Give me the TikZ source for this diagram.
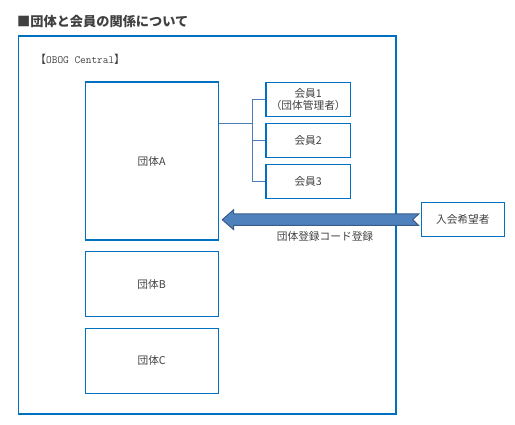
\documentclass[tikz,border=0pt]{standalone}
\usepackage{fontspec}
\usetikzlibrary{calc}
\setmainfont{Noto Sans CJK JP}
\newfontfamily\jpfont{Noto Sans CJK JP}
\definecolor{frameblue}{HTML}{0070C0}
\definecolor{linkblue}{HTML}{4A7EBB}
\definecolor{arrowfill}{HTML}{4F81BD}
\definecolor{arrowedge}{HTML}{385D8A}
\definecolor{txt}{HTML}{404040}
\tikzset{
  boxstyle/.style={draw=frameblue, line width=1.2pt, text=txt, font=\jpfont\fontsize{10.7}{12.5}\selectfont, align=center, inner sep=0pt},
  linkstyle/.style={draw=linkblue, line width=1pt},
}
\begin{document}
\begin{tikzpicture}[x=1pt,y=-1pt]
\useasboundingbox (0,0) rectangle (515,425);
% title
\node[anchor=west, text=txt, font=\jpfont\bfseries\fontsize{13.2}{15}\selectfont, inner sep=0pt] (title) at (17,22) {■団体と会員の関係について};
% outer frame
\node[draw=frameblue, line width=1.2pt, minimum width=377.5pt, minimum height=378pt, inner sep=0pt] (frame) at (207.25,225) {};
\node[anchor=west, text=txt, font=\fontsize{11}{13}\selectfont, inner sep=0pt] (brand) at (35,59) {{\jpfont 【}{\ttfamily\fontsize{11}{13}\selectfont OBOG Central}{\jpfont 】}};
% groups
\node[boxstyle, minimum width=133pt, minimum height=158pt] (A) at (151.7,161) {団体A};
\node[boxstyle, minimum width=133pt, minimum height=64.6pt] (B) at (151.7,284) {団体B};
\node[boxstyle, minimum width=133pt, minimum height=65pt] (C) at (151.7,360.8) {団体C};
% members
\node[boxstyle, minimum width=84.3pt, minimum height=33.5pt] (m1) at (308.2,99.4) {会員1\\（団体管理者）};
\node[boxstyle, minimum width=84.3pt, minimum height=34pt] (m2) at (308.2,140.8) {会員2};
\node[boxstyle, minimum width=84.3pt, minimum height=34pt] (m3) at (308.2,181.8) {会員3};
% applicant
\node[boxstyle, minimum width=83pt, minimum height=34pt] (ap) at (462.8,219.7) {入会希望者};
% connectors
\coordinate (j) at (252.3,123.3);
\draw[linkstyle] (A.east |- j) -- (j);
\draw[linkstyle] (j |- m1.west) -- (j |- m3.west);
\draw[linkstyle] (j |- m1.west) -- (m1.west);
\draw[linkstyle] (j |- m2.west) -- (m2.west);
\draw[linkstyle] (j |- m3.west) -- (m3.west);
% block arrow from applicant to group A
\coordinate (tip) at ($(A.east |- ap.west)+(3.5,0)$);
\coordinate (tail) at ($(ap.west)+(-2,0)$);
\fill[arrowfill, draw=arrowedge, line width=1pt, line join=miter]
  (tip) -- ++(11.3,-9.9) -- ++(0,4.1) -- ($(tail)+(0,-5.8)$) -- ++(-6,5.8) -- ++(6,5.8) -- ($(tip)+(11.3,5.8)$) -- ++(0,4.1) -- cycle;
\node[text=txt, font=\jpfont\fontsize{10.7}{12.5}\selectfont, inner sep=0pt] (code) at (325,236.5) {団体登録コード登録};
\end{tikzpicture}
\end{document}
